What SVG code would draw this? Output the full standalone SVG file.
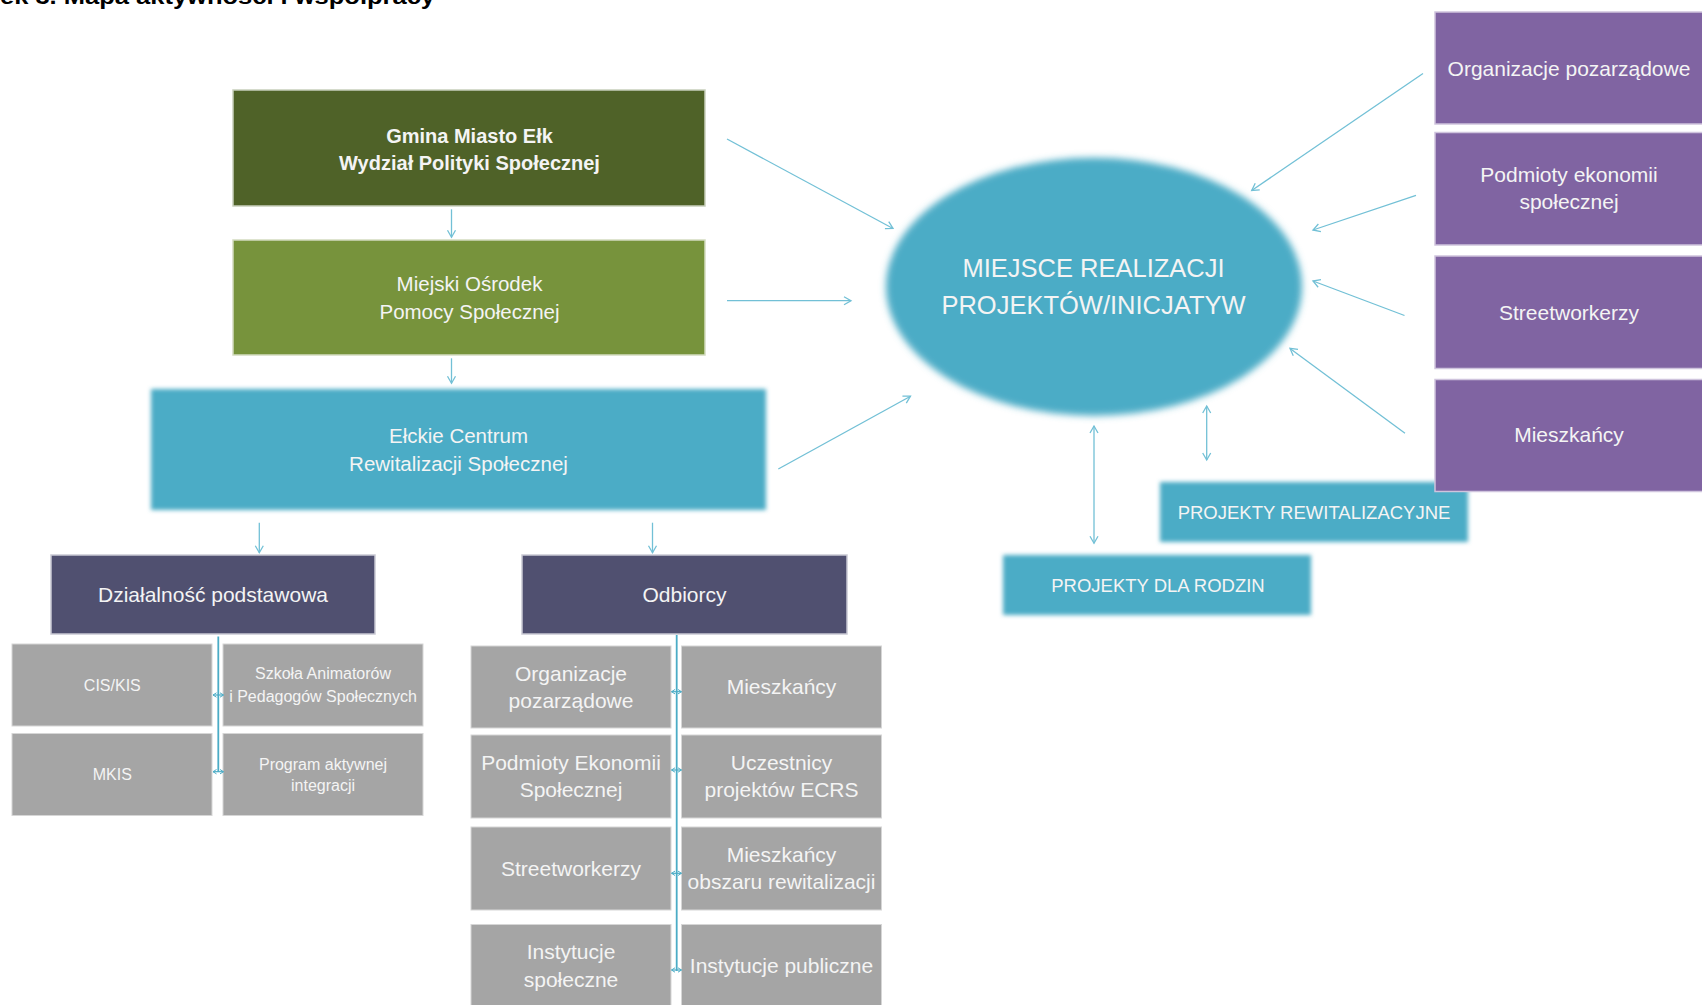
<svg xmlns="http://www.w3.org/2000/svg" width="1702" height="1005" viewBox="0 0 1702 1005">
<style>
text{font-family:"Liberation Sans",Arial,sans-serif;fill:#F4F4F4;text-anchor:middle}
.title{fill:#000;font-weight:bold;text-anchor:start;font-size:22px}
.b{font-weight:bold;font-size:20px}
.m{font-size:20.5px}
.l{font-size:21px}
.s{font-size:16px}
.big{font-size:25.5px}
.pr{font-size:18.5px}
.conn{stroke:#72C0D6;stroke-width:1.3;fill:none}
.grid{stroke:#4BACC6;stroke-width:1.8;fill:none}
.tick{stroke:#4BACC6;stroke-width:1.2;fill:none}
.grey{fill:#A5A5A5;stroke:#D6D6D6;stroke-width:1}
.slate{fill:#505070;stroke:#C9C9D3;stroke-width:1.5}
.purple{fill:#8064A2;stroke:#CFC4DD;stroke-width:1.5}
</style>
<defs>
<filter id="soft" x="-5%" y="-15%" width="110%" height="130%"><feGaussianBlur stdDeviation="2"/></filter>
<filter id="softE" x="-10%" y="-10%" width="120%" height="120%"><feGaussianBlur stdDeviation="3.5"/></filter>
<marker id="ah" markerUnits="userSpaceOnUse" markerWidth="12" markerHeight="12" refX="8" refY="5" orient="auto-start-reverse" viewBox="0 0 12 10">
<path d="M1,1 L8,5 L1,9" fill="none" stroke="#72C0D6" stroke-width="1.3"/>
</marker>
<marker id="ts" markerUnits="userSpaceOnUse" markerWidth="6" markerHeight="6" refX="4" refY="3" orient="auto-start-reverse" viewBox="0 0 6 6">
<path d="M0.5,0.8 L4,3 L0.5,5.2" fill="none" stroke="#4BACC6" stroke-width="1"/>
</marker>
</defs>
<rect width="1702" height="1005" fill="#FFFFFF"/>
<text class="title" x="0" y="4" textLength="435" lengthAdjust="spacingAndGlyphs">ek 3. Mapa aktywności i współpracy</text>

<g id="gmina">
<rect x="233" y="90" width="472" height="116" fill="#4F6228" stroke="#C8CFBC" stroke-width="1.5"/>
<text class="b" x="469.5" y="142.7">Gmina Miasto Ełk</text>
<text class="b" x="469.5" y="170.3">Wydział Polityki Społecznej</text>
</g>
<g id="mops">
<rect x="233" y="240" width="472" height="115" fill="#77933C" stroke="#D3DCC0" stroke-width="1.5"/>
<text class="m" x="469.5" y="290.5">Miejski Ośrodek</text>
<text class="m" x="469.5" y="318.9">Pomocy Społecznej</text>
</g>
<g id="ecrs">
<rect x="151" y="389" width="615" height="121" fill="#4BACC6" filter="url(#soft)"/>
<text class="m" x="458.5" y="443.2">Ełckie Centrum</text>
<text class="m" x="458.5" y="471.2">Rewitalizacji Społecznej</text>
</g>

<g id="dzialalnosc">
<rect class="slate" x="51" y="555" width="324" height="79"/>
<text class="l" x="213" y="602.4">Działalność podstawowa</text>
</g>
<g id="cis">
<rect class="grey" x="12" y="644" width="200" height="82"/>
<text class="s" x="112.3" y="690.6">CIS/KIS</text>
</g>
<g id="szkola">
<rect class="grey" x="223" y="644" width="200" height="82"/>
<text class="s" x="323" y="679">Szkoła Animatorów</text>
<text class="s" x="323" y="701.6">i Pedagogów Społecznych</text>
</g>
<g id="mkis">
<rect class="grey" x="12" y="733.5" width="200" height="82"/>
<text class="s" x="112.3" y="780.3">MKIS</text>
</g>
<g id="program">
<rect class="grey" x="223" y="733.5" width="200" height="82"/>
<text class="s" x="323" y="770">Program aktywnej</text>
<text class="s" x="323" y="791.3">integracji</text>
</g>

<g id="odbiorcy">
<rect class="slate" x="522" y="555" width="325" height="79"/>
<text class="l" x="684.5" y="602.4">Odbiorcy</text>
</g>
<g id="o-org">
<rect class="grey" x="471" y="646" width="200" height="82"/>
<text class="l" x="571" y="680.7">Organizacje</text>
<text class="l" x="571" y="708.4">pozarządowe</text>
</g>
<g id="o-miesz">
<rect class="grey" x="681.5" y="646" width="200" height="82"/>
<text class="l" x="781.5" y="694">Mieszkańcy</text>
</g>
<g id="o-pes">
<rect class="grey" x="471" y="735" width="200" height="83"/>
<text class="l" x="571" y="770">Podmioty Ekonomii</text>
<text class="l" x="571" y="797.4">Społecznej</text>
</g>
<g id="o-ucz">
<rect class="grey" x="681.5" y="735" width="200" height="83"/>
<text class="l" x="781.5" y="770">Uczestnicy</text>
<text class="l" x="781.5" y="797.4">projektów ECRS</text>
</g>
<g id="o-street">
<rect class="grey" x="471" y="827" width="200" height="83"/>
<text class="l" x="571" y="876.4">Streetworkerzy</text>
</g>
<g id="o-obszar">
<rect class="grey" x="681.5" y="827" width="200" height="83"/>
<text class="l" x="781.5" y="862.4">Mieszkańcy</text>
<text class="l" x="781.5" y="889">obszaru rewitalizacji</text>
</g>
<g id="o-spol">
<rect class="grey" x="471" y="924.5" width="200" height="90"/>
<text class="l" x="571" y="959">Instytucje</text>
<text class="l" x="571" y="986.6">społeczne</text>
</g>
<g id="o-publ">
<rect class="grey" x="681.5" y="924.5" width="200" height="90"/>
<text class="l" x="781.5" y="973.4">Instytucje publiczne</text>
</g>

<g id="miejsce">
<ellipse cx="1094" cy="286.7" rx="208" ry="129" fill="#4BACC6" filter="url(#softE)"/>
<text class="big" x="1093.5" y="277.4">MIEJSCE REALIZACJI</text>
<text class="big" x="1093.5" y="314.1">PROJEKTÓW/INICJATYW</text>
</g>
<g id="proj-rew">
<rect x="1160" y="482" width="308" height="60" fill="#4BACC6" filter="url(#soft)"/>
<text class="pr" x="1314" y="519.3">PROJEKTY REWITALIZACYJNE</text>
</g>
<g id="proj-rodz">
<rect x="1003" y="555" width="308" height="60" fill="#4BACC6" filter="url(#soft)"/>
<text class="pr" x="1158" y="591.6">PROJEKTY DLA RODZIN</text>
</g>

<g id="p-org">
<rect class="purple" x="1435" y="12" width="275" height="112"/>
<text class="l" x="1569" y="75.6">Organizacje pozarządowe</text>
</g>
<g id="p-pes">
<rect class="purple" x="1435" y="132.5" width="275" height="112.5"/>
<text class="l" x="1569" y="182.3">Podmioty ekonomii</text>
<text class="l" x="1569" y="209">społecznej</text>
</g>
<g id="p-street">
<rect class="purple" x="1435" y="256" width="275" height="112.5"/>
<text class="l" x="1569" y="320">Streetworkerzy</text>
</g>
<g id="p-miesz">
<rect class="purple" x="1435" y="379.5" width="275" height="112"/>
<text class="l" x="1569" y="442.3">Mieszkańcy</text>
</g>

<g id="connectors">
<line class="conn" x1="451.5" y1="209.3" x2="451.5" y2="237.3" marker-end="url(#ah)"/>
<line class="conn" x1="451.5" y1="358.3" x2="451.5" y2="383.3" marker-end="url(#ah)"/>
<line class="conn" x1="259.3" y1="522.7" x2="259.3" y2="552.7" marker-end="url(#ah)"/>
<line class="conn" x1="652.5" y1="522.7" x2="652.5" y2="552.7" marker-end="url(#ah)"/>
<line class="conn" x1="727" y1="139" x2="893" y2="228.5" marker-end="url(#ah)"/>
<line class="conn" x1="727" y1="300.7" x2="851" y2="300.7" marker-end="url(#ah)"/>
<line class="conn" x1="778.3" y1="469" x2="910.5" y2="396.2" marker-end="url(#ah)"/>
<line class="conn" x1="1423" y1="73.5" x2="1251.7" y2="190.5" marker-end="url(#ah)"/>
<line class="conn" x1="1416" y1="195.4" x2="1313" y2="230" marker-end="url(#ah)"/>
<line class="conn" x1="1404.5" y1="315.5" x2="1313" y2="281" marker-end="url(#ah)"/>
<line class="conn" x1="1405" y1="433.3" x2="1290" y2="348.4" marker-end="url(#ah)"/>
<line class="conn" x1="1094" y1="426" x2="1094" y2="543.3" marker-start="url(#ah)" marker-end="url(#ah)"/>
<line class="conn" x1="1206.7" y1="406" x2="1206.7" y2="460" marker-start="url(#ah)" marker-end="url(#ah)"/>
<line class="grid" x1="218.3" y1="636.5" x2="218.3" y2="771.7"/>
<line class="tick" x1="213" y1="695" x2="223.5" y2="695" marker-start="url(#ts)" marker-end="url(#ts)"/>
<line class="tick" x1="213" y1="771.7" x2="223.5" y2="771.7" marker-start="url(#ts)" marker-end="url(#ts)"/>
<line class="grid" x1="676.7" y1="635" x2="676.7" y2="971"/>
<line class="tick" x1="671.5" y1="691.7" x2="681.5" y2="691.7" marker-start="url(#ts)" marker-end="url(#ts)"/>
<line class="tick" x1="671.5" y1="770" x2="681.5" y2="770" marker-start="url(#ts)" marker-end="url(#ts)"/>
<line class="tick" x1="671.5" y1="873.3" x2="681.5" y2="873.3" marker-start="url(#ts)" marker-end="url(#ts)"/>
<line class="tick" x1="671.5" y1="970" x2="681.5" y2="970" marker-start="url(#ts)" marker-end="url(#ts)"/>
</g>
</svg>
